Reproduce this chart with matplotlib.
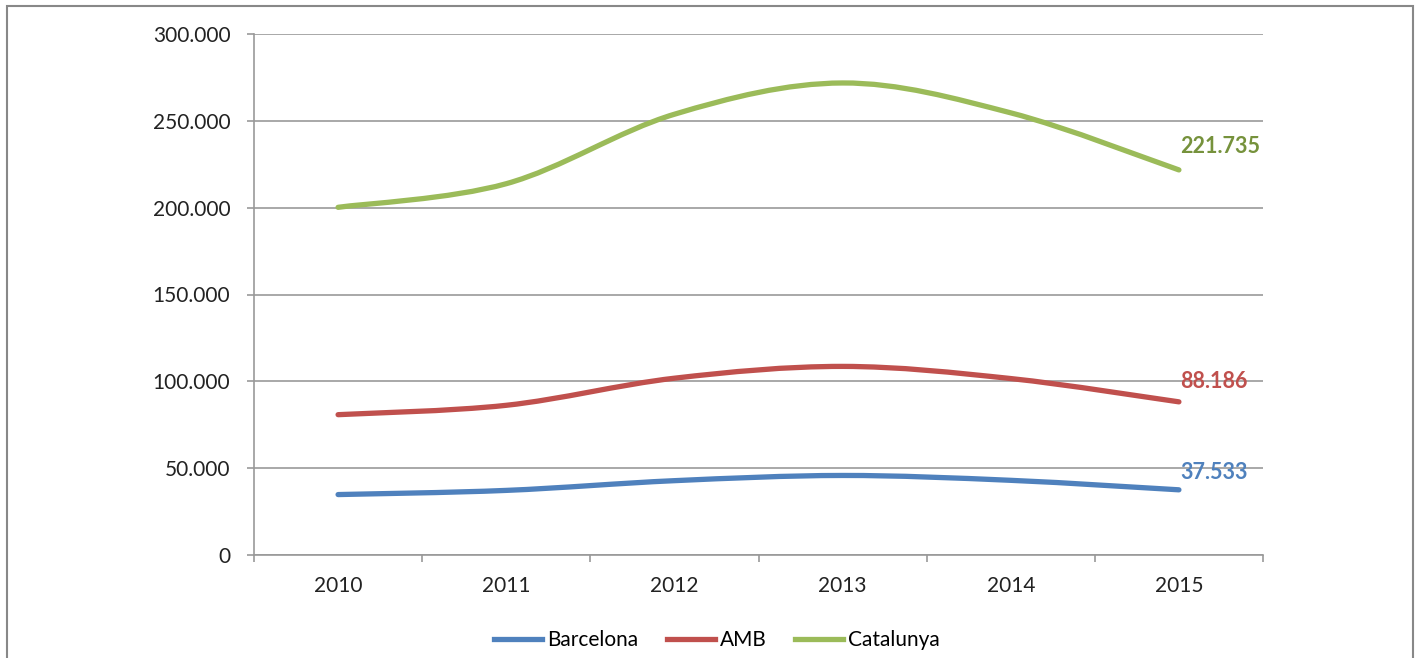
import matplotlib.pyplot as plt
from matplotlib.path import Path
from matplotlib.patches import PathPatch, Rectangle
from matplotlib.lines import Line2D
from matplotlib.ticker import FuncFormatter

plt.rcParams['font.family'] = ['Lato', 'DejaVu Sans']

years = ['2010', '2011', '2012', '2013', '2014', '2015']
barcelona = [34800, 37200, 42800, 45800, 43000, 37533]
amb = [80800, 86200, 101800, 108600, 101600, 88186]
catalunya = [200200, 213800, 253800, 271800, 254600, 221735]

series = [
    ('Barcelona', barcelona, '#4F81BD', '#4F81BD'),
    ('AMB', amb, '#C0504D', '#C0504D'),
    ('Catalunya', catalunya, '#9BBB59', '#76923C'),
]


def smooth_path(xs, ys):
    # Excel-like smoothing: cubic Bezier with Catmull-Rom control points
    pts = list(zip(xs, ys))
    n = len(pts)
    verts = [pts[0]]
    codes = [Path.MOVETO]
    for i in range(n - 1):
        p0 = pts[i - 1] if i > 0 else pts[i]
        p1 = pts[i]
        p2 = pts[i + 1]
        p3 = pts[i + 2] if i + 2 < n else pts[i + 1]
        c1 = (p1[0] + (p2[0] - p0[0]) / 6, p1[1] + (p2[1] - p0[1]) / 6)
        c2 = (p2[0] - (p3[0] - p1[0]) / 6, p2[1] - (p3[1] - p1[1]) / 6)
        verts += [c1, c2, p2]
        codes += [Path.CURVE4] * 3
    return Path(verts, codes)


fig = plt.figure(figsize=(14.18, 6.58), dpi=100)
ax = fig.add_axes([254 / 1418, 1 - 555 / 658, (1263 - 254) / 1418, (555 - 34) / 658])

x = list(range(len(years)))
for name, vals, color, lab_color in series:
    patch = PathPatch(smooth_path(x, vals), facecolor='none', edgecolor=color,
                      lw=3.8, capstyle='round', joinstyle='round', zorder=3)
    ax.add_patch(patch)

ax.set_xlim(-0.5, len(years) - 0.5)
ax.set_ylim(0, 300000)
ax.set_yticks(range(0, 300001, 50000))
ax.yaxis.set_major_formatter(FuncFormatter(lambda v, p: f'{int(v):,}'.replace(',', '.')))
ax.set_xticks(x)
ax.set_xticklabels(years)
ax.set_xticks([i - 0.5 for i in range(len(years) + 1)], minor=True)

ax.grid(axis='y', color='#999999', lw=1.2, zorder=1)
for s in ['top', 'right']:
    ax.spines[s].set_visible(False)
for s in ['left', 'bottom']:
    ax.spines[s].set_color('#999999')
    ax.spines[s].set_linewidth(1.2)
ax.tick_params(axis='y', length=5, color='#999999', width=1.2, labelsize=15, pad=12, labelcolor='#222222')
ax.tick_params(axis='x', which='major', length=0, labelsize=15, pad=15, labelcolor='#222222')
ax.tick_params(axis='x', which='minor', length=5, color='#999999', width=1.2)

# end labels
offsets = {'Barcelona': 10000, 'AMB': 12000, 'Catalunya': 13500}
for name, vals, color, lab_color in series:
    ax.text(len(years) - 1 + 0.01, vals[-1] + offsets[name], f'{vals[-1]:,}'.replace(',', '.'),
            color=lab_color, fontsize=15.5, fontweight='bold', ha='left', va='center', zorder=4)

handles = [Line2D([0], [0], color=c, lw=3.8) for _, _, c, _ in series]
fig.legend(handles, [s[0] for s in series], loc='center', bbox_to_anchor=(717 / 1418, 1 - 640 / 658),
           ncol=3, frameon=False, fontsize=15, handlelength=2.3, handletextpad=0.25, columnspacing=1.35)

fig.add_artist(Rectangle((7 / 1418, -0.01), (1413 - 7) / 1418, 1.01 - 6 / 658,
                         transform=fig.transFigure, fill=False, edgecolor='#888888', lw=1.5))

fig.savefig('out.png', dpi=100)
